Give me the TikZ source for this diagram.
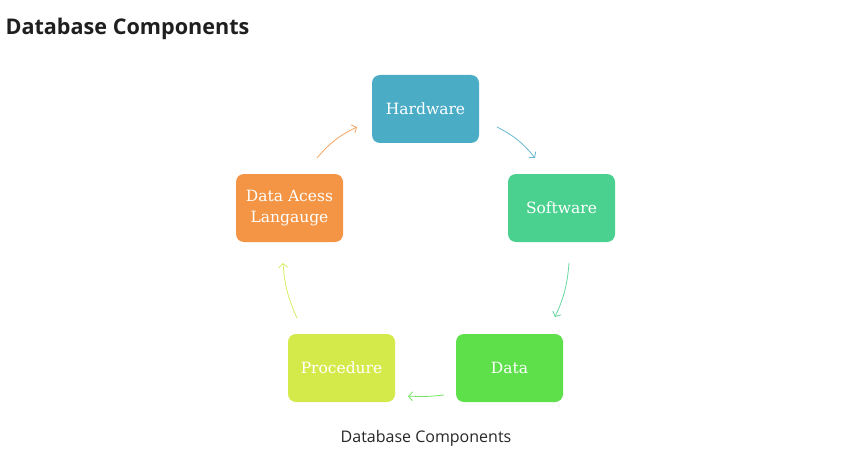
\documentclass[tikz,border=0pt]{standalone}
\usepackage{fontspec}
\setmainfont{DejaVu Serif}
\newfontfamily\titlefont{Open Sans}
\usetikzlibrary{arrows.meta}
\definecolor{chw}{HTML}{4BACC6}
\definecolor{csw}{HTML}{4BD18F}
\definecolor{cda}{HTML}{5EE04A}
\definecolor{cpr}{HTML}{D4EA4A}
\definecolor{cdal}{HTML}{F39545}
\begin{document}
\begin{tikzpicture}[x=1pt,y=-1pt,
  comp/.style={rounded corners=8pt, minimum width=107pt, minimum height=68pt, text=white, font=\fontsize{15.5}{20.5}\selectfont, align=center, inner sep=0pt},
  link/.style={line width=0.8pt, -{Straight Barb[length=4pt,width=9pt]}}]
\useasboundingbox (0,0) rectangle (858,465);
\fill[white] (0,0) rectangle (858,465);
\node[anchor=west, font=\titlefont\bfseries\fontsize{21.6}{24}\selectfont, text=black!88] (title) at (2,29) {Database Components};
\node[comp, fill=chw] (hw) at (425.5,109) {Hardware};
\node[comp, fill=csw] (sw) at (561.5,208) {Software};
\node[comp, fill=cda] (da) at (509.5,368) {Data};
\node[comp, fill=cpr] (pr) at (341.5,368) {Procedure};
\node[comp, fill=cdal] (dal) at (289.5,208) {Data Acess\\Langauge};
\node[font=\titlefont\fontsize{16}{18}\selectfont, text=black!85] (cap) at (426,438) {Database Components};
\coordinate (a1) at (317,158); \coordinate (b1) at (357,127);
\coordinate (a2) at (497,127); \coordinate (b2) at (535,158);
\coordinate (a3) at (569,263); \coordinate (b3) at (555,317);
\coordinate (a4) at (444,395); \coordinate (b4) at (408,396);
\coordinate (a5) at (297,318); \coordinate (b5) at (283,263);
\draw[link, draw=cdal!85] (a1) to[bend left=12] (b1);
\draw[link, draw=chw!85] (a2) to[bend left=12] (b2);
\draw[link, draw=csw!85] (a3) to[bend left=10] (b3);
\draw[link, draw=cda!85] (a4) to[bend left=5] (b4);
\draw[link, draw=cpr!85] (a5) to[bend left=10] (b5);
\end{tikzpicture}
\end{document}
